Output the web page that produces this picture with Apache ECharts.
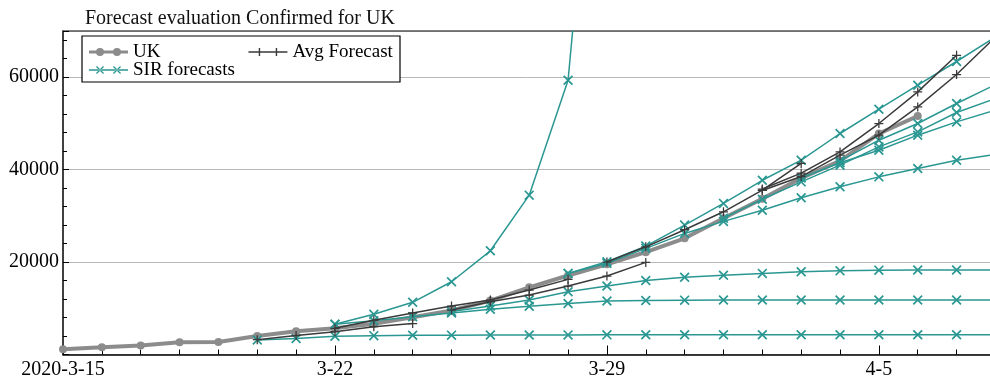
<!DOCTYPE html>
<html>
<head>
<meta charset="utf-8">
<script src="https://cdn.jsdelivr.net/npm/echarts@6/dist/echarts.min.js"></script>
<style>
  html, body { margin: 0; padding: 0; background: #fff; }
  #chart { width: 990px; height: 381px; }
</style>
</head>
<body>
<div id="chart"></div>
<script>
// Day index 0 = 2020-03-15; x axis runs in whole days.
const tickDays = [0, 7, 14, 21];
const tickLabels = ['2020-3-15', '3-22', '3-29', '4-5'];

// Observed confirmed cases, UK (one value per day from 3-15)
const ukConfirmed = [1140, 1543, 1950, 2626, 2689, 4014, 5018, 5683, 6650, 8077, 9529,
  11658, 14543, 17089, 19522, 22141, 25150, 29474, 33718, 38168, 41903, 47806, 51608];

// SIR model runs: first day of each run, then the daily values of each run
const sirStartDays = [5, 7, 7, 10, 13, 13, 17, 19, 20];
const sirRun1 = [3130, 3450, 3950, 4080, 4150, 4190, 4210, 4230, 4240, 4250, 4260, 4260,
  4270, 4270, 4270, 4270, 4270, 4270, 4270, 4270];
const sirRun2 = [6530, 8690, 11290, 15740, 22440, 34480, 59350, 150000];
const sirRun3 = [6530, 7300, 8150, 9000, 9800, 10450, 11050, 11570, 11700, 11760, 11790,
  11800, 11800, 11800, 11800, 11800, 11800, 11800];
const sirRun4 = [9300, 10500, 11780, 13580, 14810, 16000, 16700, 17150, 17550, 17900, 18100,
  18250, 18300, 18300, 18300];
const sirRun5 = [17550, 20070, 23460, 28000, 32700, 37700, 42050, 47820, 53080, 58270, 63400, 68700];
const sirRun6 = [17550, 19720, 22960, 26200, 28800, 31200, 33900, 36280, 38440, 40260, 42050, 43300];
const sirRun7 = [29500, 33600, 37360, 40970, 44920, 48170, 52370, 55400];
const sirRun8 = [38200, 41500, 44210, 47460, 50330, 52900];
const sirRun9 = [41900, 46370, 49980, 54310, 58400];
const sirRuns = [sirRun1, sirRun2, sirRun3, sirRun4, sirRun5, sirRun6, sirRun7, sirRun8, sirRun9];

// Averaged forecasts: first day of each, then daily values
const avgStartDays = [5, 7, 10, 14, 18, 18];
const avgRun1 = [3200, 4100, 4930, 6010, 6700];
const avgRun2 = [5660, 7400, 9000, 10490, 11780, 13940, 16260];
const avgRun3 = [9620, 11420, 12860, 14810, 16970, 19930];
const avgRun4 = [20000, 23300, 27000, 30880, 35570, 41340];
const avgRun5 = [35800, 39240, 43840, 49980, 56820, 64750];
const avgRun6 = [35500, 38500, 43130, 47460, 53580, 60580, 68700];
const avgRuns = [avgRun1, avgRun2, avgRun3, avgRun4, avgRun5, avgRun6];

const SERIF = '"Liberation Serif", "Times New Roman", serif';
const TEAL = '#2a9792';
const DARK = '#3a3a3a';
const GREY = '#8c8c8c';
const X_MAX = 23.86;

function pairs(start, vals) {
  return vals.map((v, i) => [start + i, v]);
}

// marker shapes
const PLUS = 'path://M-0.7,-5H0.7V-0.7H5V0.7H0.7V5H-0.7V0.7H-5V-0.7H-0.7Z';
function crossPath(cx, cy, a, b) {
  const p = (dx, dy) => (cx + dx).toFixed(2) + ',' + (cy + dy).toFixed(2);
  return 'M' + p(b, a) + 'L' + p(a, b) + 'L' + p(-b, -a) + 'L' + p(-a, -b) + 'Z' +
         'M' + p(a, -b) + 'L' + p(b, -a) + 'L' + p(-a, b) + 'L' + p(-b, a) + 'Z';
}
function plusPath(cx, cy, r, t) {
  const p = (dx, dy) => (cx + dx).toFixed(2) + ',' + (cy + dy).toFixed(2);
  return 'M' + p(-t, -r) + 'L' + p(t, -r) + 'L' + p(t, -t) + 'L' + p(r, -t) + 'L' + p(r, t) +
         'L' + p(t, t) + 'L' + p(t, r) + 'L' + p(-t, r) + 'L' + p(-t, t) + 'L' + p(-r, t) +
         'L' + p(-r, -t) + 'L' + p(-t, -t) + 'Z';
}
// clockwise circle so it fills together with the clockwise line bar
function circlePath(cx, cy, r) {
  return 'M' + (cx - r) + ',' + cy + 'a' + r + ',' + r + ' 0 1,1 ' + (2 * r) + ',0' +
         'a' + r + ',' + r + ' 0 1,1 ' + (-2 * r) + ',0Z';
}
const CROSS = 'path://' + crossPath(0, 0, 3.22, 2.44);

// legend icons: 39 x 8 box, line with two markers
const ICON_W = 39, ICON_H = 8;
const ukIcon = 'path://M0,2.5H39V5.5H0Z' + circlePath(11, 4, 4) + circlePath(28, 4, 4);
const avgIcon = 'path://M0,3.3H39V4.7H0Z' + plusPath(11, 4, 4, 0.7) + plusPath(28, 4, 4, 0.7);
const sirIcon = 'path://M0,3.3H39V4.7H0Z' + crossPath(11, 4, 4, 3.1) + crossPath(28, 4, 4, 3.1);

const series = [];
series.push({
  name: 'UK', type: 'line', data: pairs(0, ukConfirmed),
  symbol: 'circle', symbolSize: 8,
  lineStyle: { color: GREY, width: 4 }, itemStyle: { color: GREY },
  z: 2
});
sirRuns.forEach((vals, i) => {
  series.push({
    name: 'SIR forecasts', type: 'line', data: pairs(sirStartDays[i], vals),
    symbol: CROSS, symbolSize: 10,
    lineStyle: { color: TEAL, width: 1.5 }, itemStyle: { color: TEAL },
    z: 3
  });
});
avgRuns.forEach((vals, i) => {
  series.push({
    name: 'Avg Forecast', type: 'line', data: pairs(avgStartDays[i], vals),
    symbol: PLUS, symbolSize: 9,
    lineStyle: { color: DARK, width: 1.5 }, itemStyle: { color: DARK },
    z: 4
  });
});

const legendText = { fontFamily: SERIF, fontSize: 19, color: '#000' };

const chart = echarts.init(document.getElementById('chart'), null, { renderer: 'canvas' });
chart.setOption({
  animation: false,
  backgroundColor: '#fff',
  title: {
    text: 'Forecast evaluation Confirmed for UK',
    left: 85, top: 9, padding: 0,
    textStyle: { fontFamily: SERIF, fontSize: 20, fontWeight: 'normal', color: '#111' }
  },
  grid: { left: 63, right: 0, top: 31, bottom: 26.5, containLabel: false },
  graphic: [{
    type: 'rect', z: 3,
    shape: { x: 82, y: 36, width: 318, height: 46 },
    style: { fill: '#fff', stroke: '#000', lineWidth: 1.2 }
  }],
  legend: [{
    left: 89, top: 42.5, padding: 0, itemGap: 88, z: 5,
    itemWidth: ICON_W, itemHeight: ICON_H,
    selectedMode: false, textStyle: legendText,
    data: [{ name: 'UK', icon: ukIcon }, { name: 'Avg Forecast', icon: avgIcon }]
  }, {
    left: 89, top: 60.5, padding: 0, z: 5,
    itemWidth: ICON_W, itemHeight: ICON_H,
    selectedMode: false, textStyle: legendText,
    data: [{ name: 'SIR forecasts', icon: sirIcon }]
  }],
  xAxis: [{
    type: 'value', min: 0, max: X_MAX, interval: 1, position: 'bottom',
    axisLine: { show: true, onZero: false, lineStyle: { color: '#000', width: 1.5 } },
    axisTick: { show: true, inside: true, length: 5, lineStyle: { color: '#000', width: 1 } },
    axisLabel: {
      fontFamily: SERIF, fontSize: 20, color: '#000', margin: 5,
      showMaxLabel: false, hideOverlap: false,
      formatter: v => {
        const d = Math.round(v);
        if (Math.abs(v - d) > 1e-6) return '';
        const k = tickDays.indexOf(d);
        return k >= 0 ? tickLabels[k] : '';
      }
    },
    splitLine: { show: false }
  }, {
    type: 'value', min: 0, max: X_MAX, interval: 7, position: 'bottom',
    axisLine: { show: false },
    axisTick: { show: true, inside: true, length: 9, lineStyle: { color: '#000', width: 1 } },
    axisLabel: { show: false },
    splitLine: { show: false }
  }, {
    type: 'value', min: 0, max: X_MAX, position: 'top',
    axisLine: { show: true, onZero: false, lineStyle: { color: '#555', width: 1.5 } },
    axisTick: { show: false }, axisLabel: { show: false }, splitLine: { show: false }
  }],
  yAxis: {
    type: 'value', min: 0, max: 70000, interval: 20000,
    axisLine: { show: true, onZero: false, lineStyle: { color: '#000', width: 1.5 } },
    axisTick: { show: true, inside: true, length: 6, lineStyle: { color: '#000', width: 1 } },
    minorTick: { show: true, splitNumber: 5, length: 4, lineStyle: { color: '#000', width: 1 } },
    axisLabel: {
      fontFamily: SERIF, fontSize: 20, color: '#000', margin: 4,
      formatter: v => (v > 0 && v % 20000 === 0) ? String(v) : ''
    },
    splitLine: { show: true, lineStyle: { color: '#b8b8b8', width: 1 } }
  },
  series: series
});
</script>
</body>
</html>
